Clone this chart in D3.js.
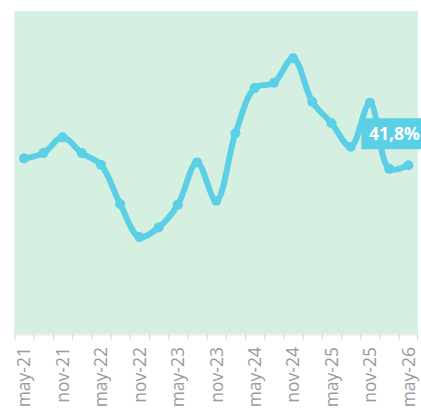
<!DOCTYPE html>
<html>
<head>
<meta charset="utf-8">
<script src="https://cdn.jsdelivr.net/npm/d3@7"></script>
<style>
  body { margin: 0; background: #fff; }
  svg { display: block; font-family: "Open Sans", sans-serif; }
</style>
</head>
<body>
<svg id="chart" width="421" height="414"></svg>
<script>
// quarterly points, may-21 .. may-26
var months = ["may-21","aug-21","nov-21","feb-22","may-22","aug-22","nov-22","feb-23","may-23","aug-23","nov-23",
              "feb-24","may-24","aug-24","nov-24","feb-25","may-25","aug-25","nov-25","feb-26","may-26"];
var values = [43.5, 44.8, 48.7, 44.8, 41.9, 32.2, 24.0, 26.4, 32.0, 42.5, 33.0,
              49.7, 60.9, 62.2, 68.3, 57.5, 52.2, 46.4, 57.3, 40.9, 41.8];
var tickLabels = ["may-21","nov-21","may-22","nov-22","may-23","nov-23","may-24","nov-24","may-25","nov-25","may-26"];
var yDomain = [0, 80];

var margin = {left: 14.5, right: 3, top: 11, bottom: 80};
var W = 421, H = 414;
var width = W - margin.left - margin.right;
var height = H - margin.top - margin.bottom;

var svg = d3.select("svg#chart");
var g = svg.append("g").attr("transform", "translate(" + margin.left + "," + margin.top + ")");

var x = d3.scaleBand().domain(months).range([0, width]).padding(0);
var y = d3.scaleLinear().domain(yDomain).range([height, 0]);
var cx = function(d) { return x(d) + x.bandwidth() / 2; };

// background
g.append("rect").attr("x", 0).attr("y", 0).attr("width", width).attr("height", height).attr("fill", "#d5f0e1");

// axis: small ticks at band edges, labels every 6 months
var axis = g.append("g").attr("transform", "translate(0," + height + ")");
axis.append("line").attr("x1", 0).attr("x2", width).attr("y1", 1).attr("y2", 1).attr("stroke", "#e4e4e4");
axis.selectAll("line.tick").data(months.concat(["end"])).enter().append("line")
    .attr("class", "tick")
    .attr("x1", function(d) { return d === "end" ? width - 0.5 : x(d) + 0.5; })
    .attr("x2", function(d) { return d === "end" ? width - 0.5 : x(d) + 0.5; })
    .attr("y1", 0).attr("y2", 6).attr("stroke", "#d6d6d6");
axis.selectAll("text").data(tickLabels).enter().append("text")
    .attr("transform", function(d) { return "translate(" + cx(d) + ",13) rotate(-90)"; })
    .attr("dy", "0.36em")
    .style("text-anchor", "end")
    .style("font-size", "17.5px")
    .attr("fill", "#9a9a9a")
    .text(function(d) { return d; });

// line + dots
var pts = months.map(function(m, i) { return {m: m, v: values[i]}; });
var col = "#5bcfe5";
g.append("path").datum(pts)
    .attr("fill", "none").attr("stroke", col).attr("stroke-width", 6)
    .attr("stroke-linecap", "round").attr("stroke-linejoin", "round")
    .attr("d", d3.line().x(function(d) { return cx(d.m); }).y(function(d) { return y(d.v); }).curve(d3.curveCatmullRom.alpha(0.5)));
g.selectAll("circle").data(pts).enter().append("circle")
    .attr("cx", function(d) { return cx(d.m); })
    .attr("cy", function(d) { return y(d.v); })
    .attr("r", 5).attr("fill", col);

// value label on last point
var last = pts[pts.length - 1];
var lx = cx(last.m), ly = y(last.v);
g.append("rect").attr("x", lx - 47).attr("y", ly - 47).attr("width", 70).attr("height", 31).attr("fill", col);
g.append("text").attr("x", lx - 39.5).attr("y", ly - 25)
    .attr("fill", "#fff").style("font-size", "17.5px").style("font-weight", "bold")
    .text(String(last.v).replace(".", ",") + "%");
</script>
</body>
</html>
